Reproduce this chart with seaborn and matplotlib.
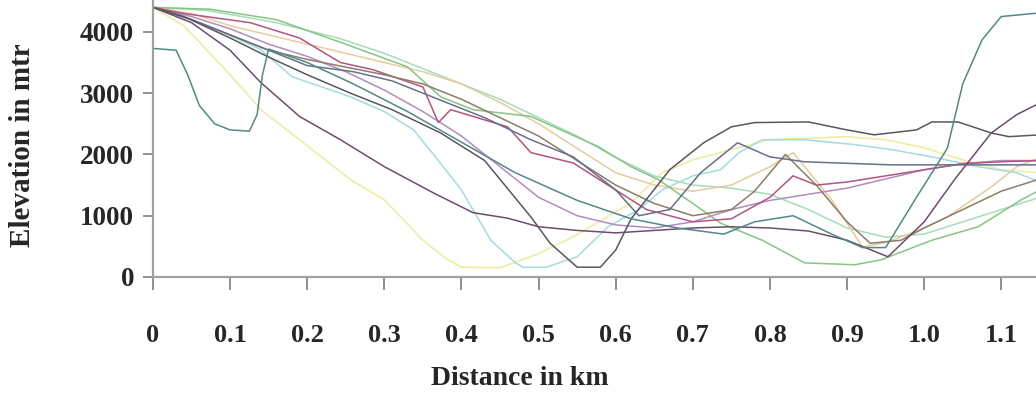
import matplotlib
matplotlib.use("Agg")
import matplotlib.pyplot as plt
import seaborn as sns
import pandas as pd

# ---- data (distance km, elevation m) ----
teal_x = [0, 0.03, 0.045, 0.06, 0.08, 0.1, 0.125, 0.135, 0.142, 0.15, 0.2, 0.26, 0.33, 0.4, 0.47, 0.55, 0.62, 0.68, 0.74, 0.78, 0.83, 0.88, 0.92, 0.95, 0.99, 1.03, 1.05, 1.075, 1.1, 1.15]
teal_y = [3730, 3700, 3300, 2800, 2500, 2400, 2380, 2650, 3300, 3720, 3500, 3150, 2700, 2200, 1700, 1250, 950, 800, 700, 900, 1000, 700, 480, 480, 1300, 2100, 3150, 3870, 4250, 4310]

gray_x = [0, 0.04, 0.1, 0.148, 0.2, 0.256, 0.31, 0.373, 0.43, 0.49, 0.515, 0.55, 0.58, 0.6, 0.62, 0.67, 0.714, 0.75, 0.78, 0.85, 0.9, 0.935, 0.99, 1.01, 1.044, 1.087, 1.11, 1.15]
gray_y = [4400, 4250, 3900, 3600, 3300, 3000, 2730, 2350, 1900, 980, 550, 160, 160, 440, 950, 1750, 2190, 2450, 2520, 2530, 2400, 2320, 2400, 2530, 2530, 2350, 2290, 2320]

yellow_x = [0, 0.04, 0.1, 0.14, 0.19, 0.256, 0.3, 0.35, 0.38, 0.4, 0.45, 0.5, 0.55, 0.62, 0.66, 0.7, 0.75, 0.8, 0.9, 0.95, 1.0, 1.05, 1.1, 1.15]
yellow_y = [4400, 4100, 3300, 2730, 2240, 1590, 1260, 600, 300, 160, 150, 380, 690, 1210, 1700, 1910, 2080, 2240, 2290, 2240, 2110, 1910, 1750, 1700]

cyan_x = [0, 0.04, 0.083, 0.14, 0.18, 0.256, 0.3, 0.338, 0.37, 0.4, 0.438, 0.47, 0.48, 0.51, 0.55, 0.59, 0.63, 0.66, 0.7, 0.736, 0.76, 0.79, 0.845, 0.91, 0.957, 1.01, 1.07, 1.12, 1.15]
cyan_y = [4400, 4250, 4040, 3710, 3270, 2940, 2700, 2400, 1900, 1420, 600, 230, 160, 160, 330, 820, 1100, 1420, 1650, 1750, 2030, 2240, 2240, 2160, 2080, 1960, 1800, 1700, 1550]

green_x = [0, 0.074, 0.16, 0.243, 0.33, 0.373, 0.415, 0.49, 0.577, 0.62, 0.655, 0.7, 0.736, 0.79, 0.845, 0.91, 0.944, 1.01, 1.07, 1.126, 1.15]
green_y = [4400, 4370, 4200, 3830, 3430, 2940, 2730, 2620, 2130, 1800, 1590, 1200, 880, 600, 230, 200, 280, 600, 820, 1260, 1420]

mint_x = [0, 0.07, 0.16, 0.24, 0.3, 0.35, 0.4, 0.45, 0.5, 0.55, 0.6, 0.65, 0.7, 0.75, 0.8, 0.85, 0.9, 0.95, 1.0, 1.05, 1.1, 1.15]
mint_y = [4400, 4350, 4150, 3900, 3650, 3400, 3150, 2900, 2600, 2300, 1950, 1650, 1500, 1450, 1350, 1100, 800, 650, 700, 900, 1100, 1300]

crimson_x = [0, 0.04, 0.126, 0.19, 0.243, 0.286, 0.35, 0.37, 0.386, 0.46, 0.49, 0.545, 0.6, 0.64, 0.7, 0.75, 0.8, 0.83, 0.86, 0.9, 0.95, 1.0, 1.05, 1.1, 1.15]
crimson_y = [4400, 4300, 4150, 3900, 3500, 3380, 3100, 2520, 2730, 2450, 2030, 1860, 1420, 1100, 900, 950, 1300, 1650, 1500, 1550, 1650, 1750, 1850, 1880, 1900]

purple_x = [0, 0.05, 0.1, 0.14, 0.19, 0.243, 0.3, 0.364, 0.415, 0.46, 0.5, 0.55, 0.6, 0.65, 0.7, 0.75, 0.8, 0.85, 0.9, 0.953, 1.0, 1.04, 1.087, 1.12, 1.15]
purple_y = [4400, 4150, 3700, 3170, 2620, 2240, 1800, 1370, 1050, 960, 820, 760, 720, 760, 800, 820, 800, 750, 600, 330, 900, 1600, 2350, 2650, 2840]

slate_x = [0, 0.05, 0.1, 0.15, 0.2, 0.26, 0.31, 0.37, 0.43, 0.49, 0.545, 0.6, 0.63, 0.67, 0.71, 0.758, 0.8, 0.845, 0.957, 1.05, 1.15]
slate_y = [4400, 4200, 3950, 3700, 3450, 3350, 3200, 2900, 2600, 2240, 1960, 1420, 1000, 1100, 1700, 2190, 1960, 1880, 1830, 1830, 1830]

beige_x = [0, 0.05, 0.1, 0.2, 0.3, 0.35, 0.4, 0.45, 0.5, 0.55, 0.6, 0.65, 0.7, 0.75, 0.8, 0.83, 0.88, 0.92, 0.95, 1.0, 1.03, 1.087, 1.12, 1.15]
beige_y = [4400, 4300, 4100, 3800, 3500, 3350, 3150, 2850, 2500, 2100, 1700, 1500, 1400, 1500, 1800, 2030, 1260, 490, 560, 800, 980, 1470, 1800, 1950]

brown_x = [0, 0.05, 0.1, 0.15, 0.2, 0.26, 0.3, 0.35, 0.4, 0.45, 0.5, 0.55, 0.6, 0.65, 0.7, 0.75, 0.78, 0.82, 0.86, 0.9, 0.93, 0.97, 1.0, 1.05, 1.1, 1.15]
brown_y = [4400, 4200, 3950, 3700, 3550, 3400, 3300, 3150, 2900, 2600, 2300, 1900, 1500, 1200, 1000, 1100, 1400, 2000, 1500, 900, 550, 600, 800, 1100, 1400, 1600]

violet_x = [0, 0.05, 0.1, 0.15, 0.2, 0.25, 0.3, 0.35, 0.4, 0.45, 0.5, 0.55, 0.6, 0.65, 0.7, 0.75, 0.8, 0.85, 0.9, 0.95, 1.0, 1.05, 1.1, 1.15]
violet_y = [4400, 4250, 4050, 3800, 3600, 3350, 3050, 2700, 2300, 1800, 1300, 1000, 850, 800, 900, 1100, 1250, 1350, 1450, 1600, 1750, 1850, 1900, 1900]

x_ticks = [0, 0.1, 0.2, 0.3, 0.4, 0.5, 0.6, 0.7, 0.8, 0.9, 1.0, 1.1]
x_labels = ["0", "0.1", "0.2", "0.3", "0.4", "0.5", "0.6", "0.7", "0.8", "0.9", "1.0", "1.1"]
y_ticks = [0, 1000, 2000, 3000, 4000]

series = {
    "yellow": (yellow_x, yellow_y, "#ecec9c"),
    "mint": (mint_x, mint_y, "#a6dcb8"),
    "beige": (beige_x, beige_y, "#e6cc9e"),
    "cyan": (cyan_x, cyan_y, "#a3dbe0"),
    "green": (green_x, green_y, "#86c486"),
    "violet": (violet_x, violet_y, "#b08cc0"),
    "crimson": (crimson_x, crimson_y, "#b45480"),
    "brown": (brown_x, brown_y, "#8c7c68"),
    "slate": (slate_x, slate_y, "#66708a"),
    "purple": (purple_x, purple_y, "#6e4c6e"),
    "gray": (gray_x, gray_y, "#5a5660"),
    "teal": (teal_x, teal_y, "#4f8a86"),
}

rows = []
for name, (xs, ys, _) in series.items():
    for xv, yv in zip(xs, ys):
        rows.append({"profile": name, "dist": xv, "elev": yv})
df = pd.DataFrame(rows)
palette = {k: v[2] for k, v in series.items()}

sns.set_style("white")
plt.rcParams["font.family"] = ["Liberation Serif", "DejaVu Serif"]

fig = plt.figure(figsize=(10.36, 4.05), dpi=100)
ax = fig.add_axes([153 / 1036, 1 - 277 / 405, 1 - 153 / 1036, 277 / 405])

sns.lineplot(data=df, x="dist", y="elev", hue="profile", palette=palette,
             hue_order=list(series.keys()), estimator=None, sort=False,
             linewidth=1.1, legend=False, ax=ax)

ax.set_xlim(0, 1.145)
ax.set_ylim(0, 4520)
ax.set_xticks(x_ticks)
ax.set_xticklabels(x_labels)
ax.set_yticks(y_ticks)

for s in ["top", "right"]:
    ax.spines[s].set_visible(False)
for s in ["left", "bottom"]:
    ax.spines[s].set_color("#a0a0a0")
    ax.spines[s].set_linewidth(1.6)

ax.tick_params(axis="x", direction="out", length=9.5, width=1.3, color="#888888",
               pad=24, labelsize=19, bottom=True)
ax.tick_params(axis="y", direction="out", length=7.5, width=1.3, color="#888888",
               pad=6, labelsize=19.5, left=True)
for lab in ax.get_xticklabels() + ax.get_yticklabels():
    lab.set_fontweight("bold")

ax.set_xlabel("Distance in km", fontsize=20, fontweight="bold")
ax.set_ylabel("Elevation in mtr", fontsize=21, fontweight="bold")
ax.xaxis.set_label_coords((520 - 153) / 883, -(366 - 277) / 277)
ax.yaxis.set_label_coords(-(153 - 36) / 883, (277 - 145) / 277)
ax.grid(False)

fig.savefig("out.png", dpi=100)
